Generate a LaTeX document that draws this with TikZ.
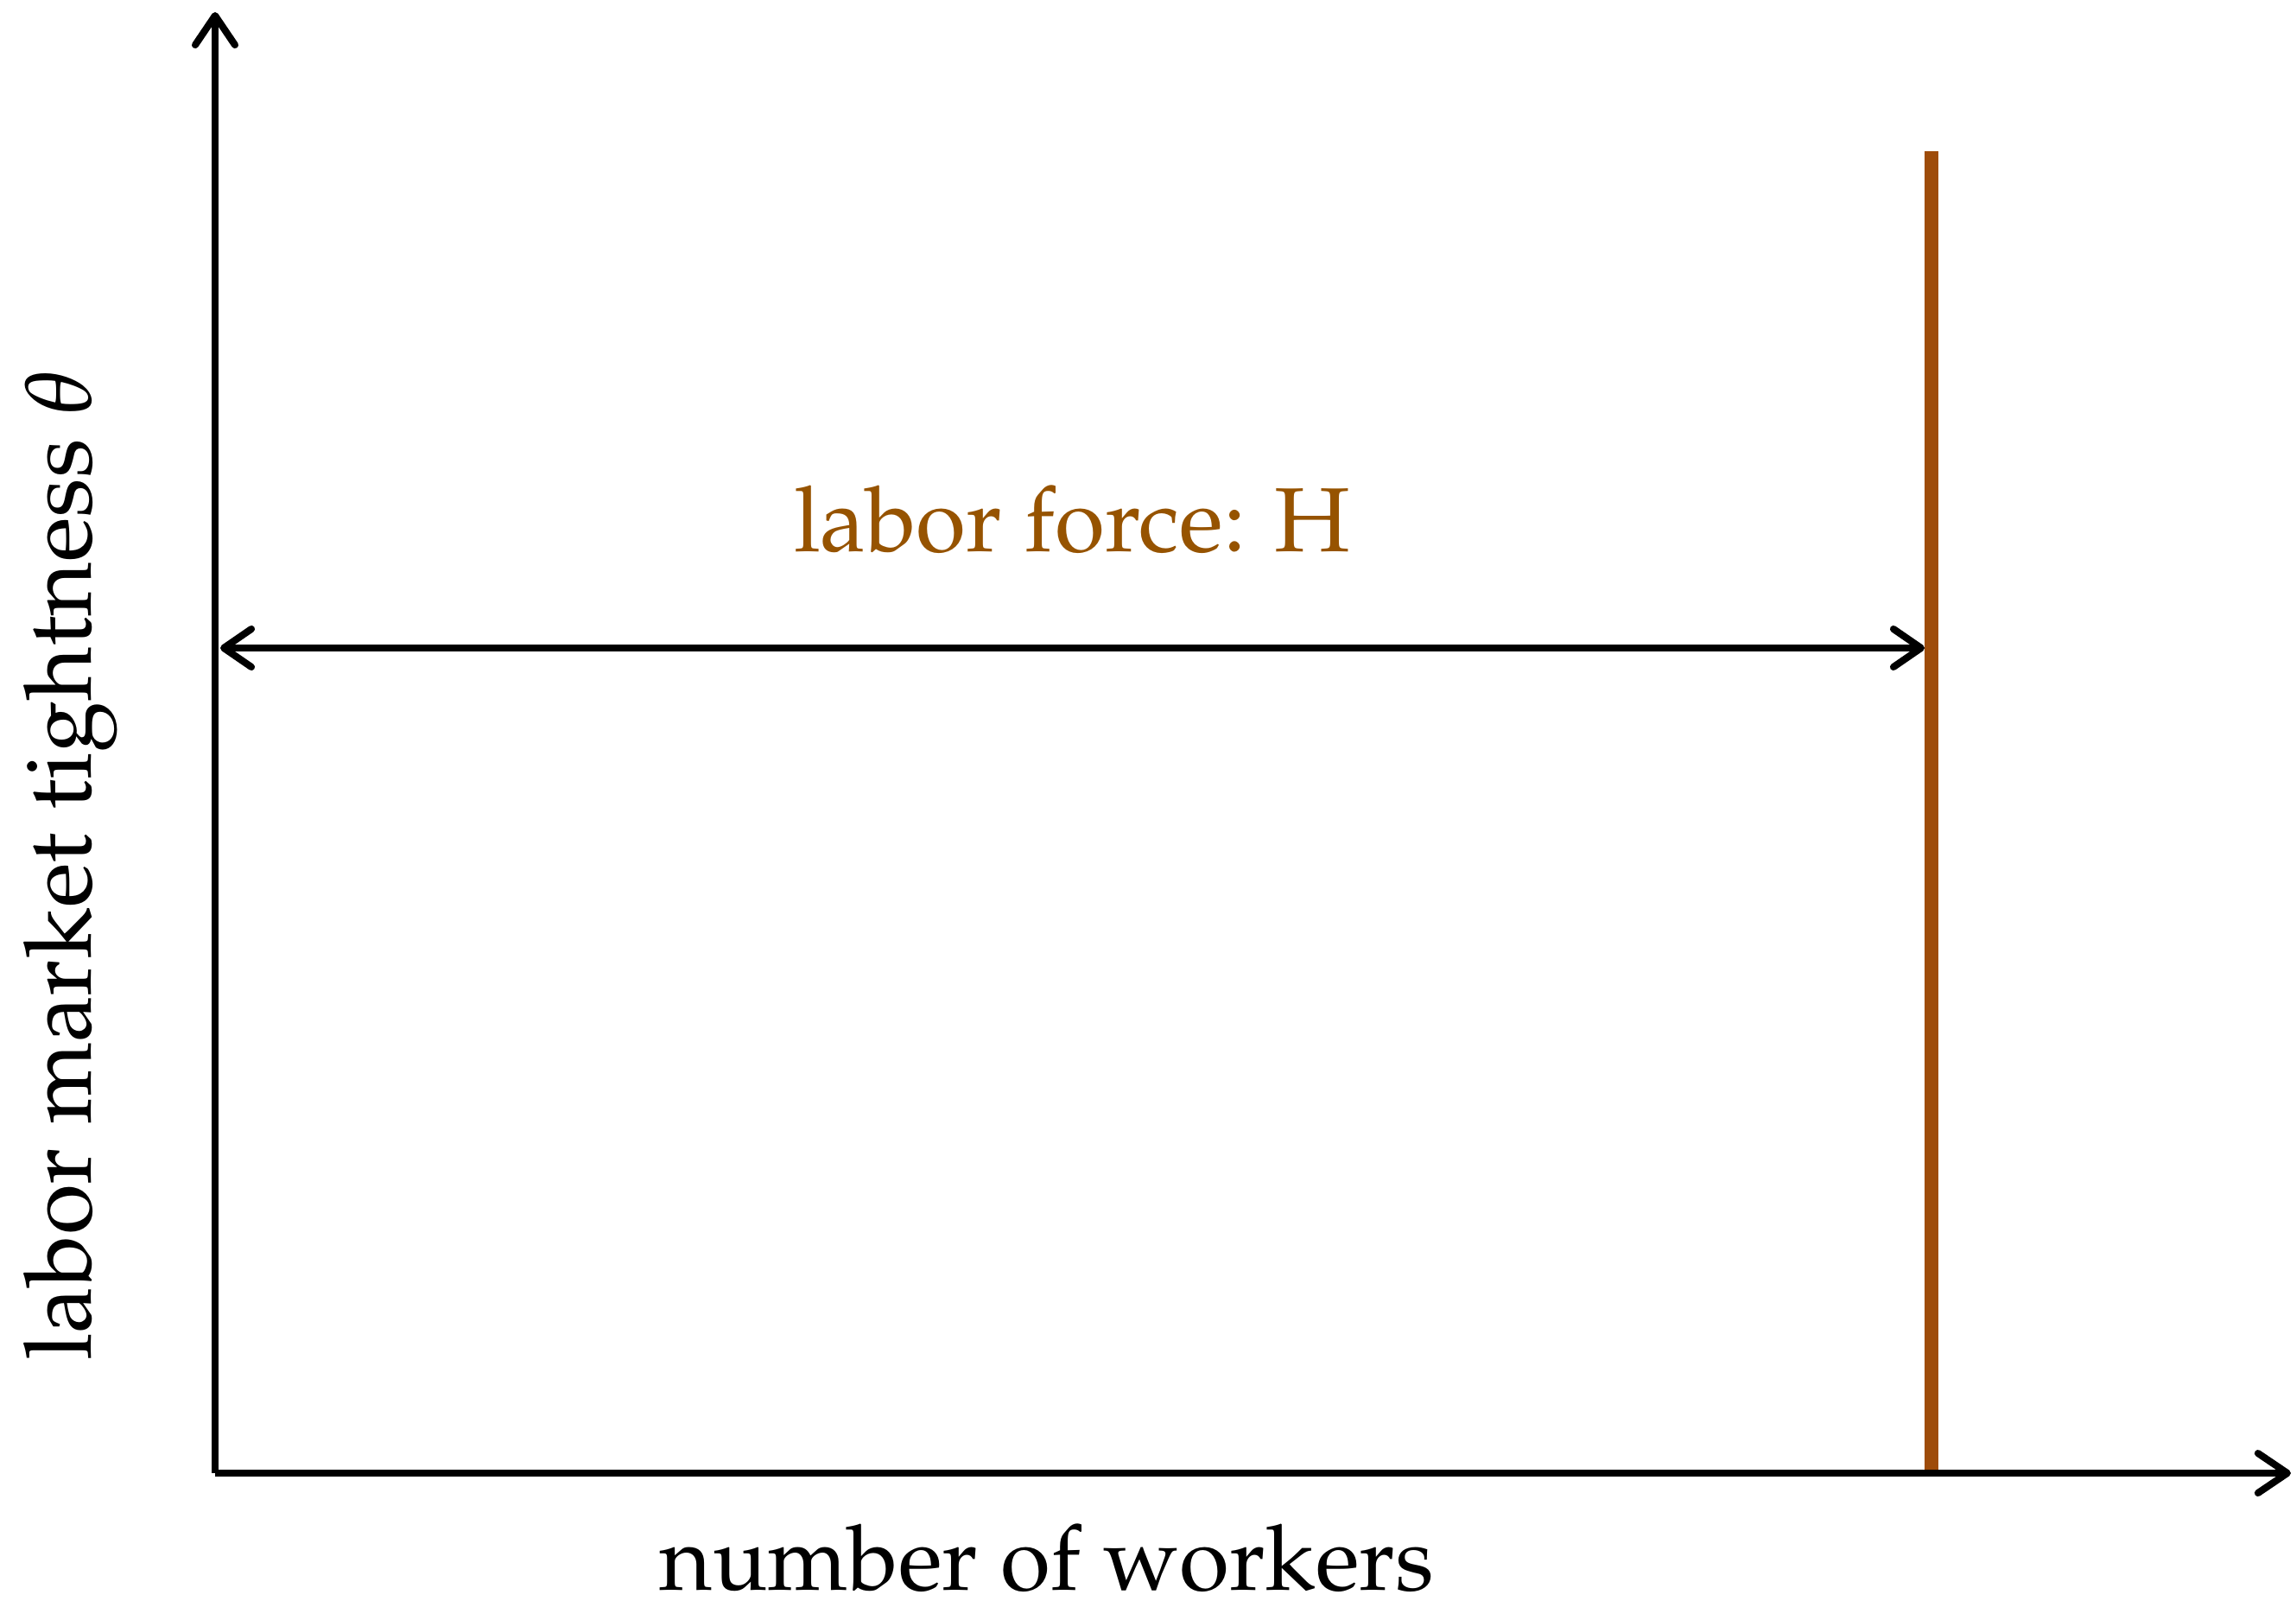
\documentclass[tikz,border=0pt]{standalone}
\usepackage[T1]{fontenc}
\usepackage{mathpazo}
\usetikzlibrary{arrows.meta}
\definecolor{lfline}{RGB}{158,76,10}
\definecolor{lftext}{RGB}{150,83,0}
\tikzset{
  axis/.style={line width=2.3pt, -{Straight Barb[length=3.4mm,width=4.6mm,round]}},
  dbl/.style={line width=2.3pt, {Straight Barb[length=3.2mm,width=4.4mm,round]}-{Straight Barb[length=3.2mm,width=4.4mm,round]}},
  lf/.style={line width=4.5pt, color=lfline},
  lab/.style={font=\fontsize{30}{36}\selectfont, inner sep=0pt, anchor=base}
}
\begin{document}
\begin{tikzpicture}
\useasboundingbox (0,0) rectangle (26.58,18.52);
\coordinate (O) at (2.49,1.47);
\coordinate (ytop) at (2.49,18.38);
\coordinate (xend) at (26.52,1.47);
\coordinate (Htop) at (22.36,16.77);
\coordinate (Hbot) at (22.36,1.47);
\coordinate (arrL) at (2.55,11.02);
\coordinate (arrR) at (22.28,11.02);
\draw[lf] (Hbot) -- (Htop);
\draw[axis] (O) -- (ytop);
\draw[axis] (O) -- (xend);
\draw[dbl] (arrL) -- (arrR);
\node[lab, text=lftext] (lflabel) at (12.41,12.13) {labor force: H};
\node[lab] (xlabel) at (12.12,0.12) {number of workers};
\node[lab, font=\fontsize{30.6}{36}\selectfont, rotate=90] (ylabel) at (1.05,8.51) {labor market tightness $\theta$};
\end{tikzpicture}
\end{document}
